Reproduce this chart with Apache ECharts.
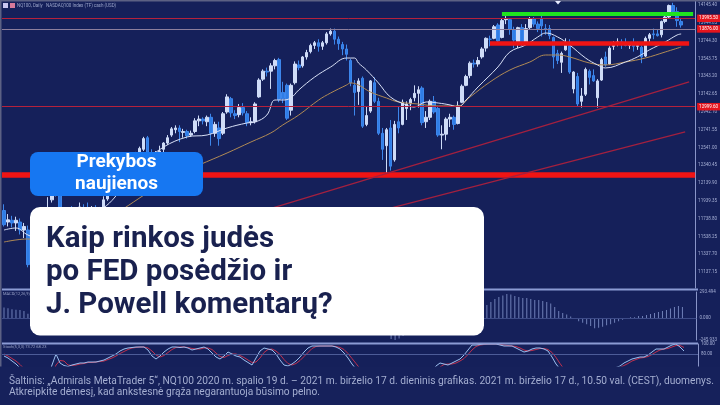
<!DOCTYPE html>
<html><head><meta charset="utf-8">
<script src="https://cdn.jsdelivr.net/npm/echarts@6.0.0/dist/echarts.min.js"></script>
<style>html,body{margin:0;padding:0;background:#15205a;}#c{width:720px;height:405px;}</style>
</head><body><div id="c"></div>
<script>
// ---- data ----
const tradingDays = [
 ['2020-10',[20,21,22,23,26,27,28,29,30]],
 ['2020-11',[2,3,4,5,6,9,10,11,12,13,16,17,18,19,20,23,24,25,26,27,30]],
 ['2020-12',[1,2,3,4,7,8,9,10,11,14,15,16,17,18,21,22,23,24,28,29,30,31]],
 ['2021-01',[4,5,6,7,8,11,12,13,14,15,18,19,20,21,22,25,26,27,28,29]],
 ['2021-02',[1,2,3,4,5,8,9,10,11,12,15,16,17,18,19,22,23,24,25,26]],
 ['2021-03',[1,2,3,4,5,8,9,10,11,12,15,16,17,18,19,22,23,24,25,26,29,30,31]],
 ['2021-04',[1,2,5,6,7,8,9,12,13,14,15,16,19,20,21,22,23,26,27,28,29,30]],
 ['2021-05',[3,4,5,6,7,10,11,12,13,14,17,18,19,20,21,24,25,26,27,28,31]],
 ['2021-06',[1,2,3,4,7,8,9,10,11,14,15,16,17]]
];
const emptySlots = [' ', '  ', '   '];
// [open, close, low, high]
const ohlc = [
[11830,11670,11650,11900],[11700,11725,11650,11790],[11720,11690,11640,11770],[11690,11720,11600,11760],
[11700,11610,11560,11740],[11610,11650,11520,11690],[11610,11220,11190,11660],[11230,11410,11200,11500],
[11400,11060,10980,11450],[11100,11150,11020,11300],[11180,11400,11150,11450],[11420,11840,11380,11980],
[11950,12120,11920,12160],[12100,12140,11990,12200],[12250,11720,11700,12360],[11700,11540,11420,11700],
[11600,11800,11580,11830],[11800,11730,11660,11880],[11750,11830,11680,11860],[11830,11870,11760,11920],
[11860,11850,11780,11900],[11860,11760,11750,11920],[11740,11860,11700,11880],[11860,11790,11780,11890],
[11800,11810,11720,11870],[11830,11950,11800,11990],[11960,12030,11940,12060],[12030,12060,12010,12080],
[12060,12110,12040,12140],[12130,12170,12030,12200],[12200,12330,12180,12380],[12320,12350,12230,12370],
[12360,12350,12330,12420],[12380,12470,12350,12490],[12470,12530,12440,12550],[12520,12640,12500,12660],
[12650,12470,12420,12670],[12470,12460,12380,12520],[12450,12480,12380,12500],[12490,12500,12460,12560],
[12520,12590,12480,12600],[12590,12650,12570,12680],[12680,12750,12660,12770],[12740,12760,12700,12790],
[12760,12720,12600,12790],[12710,12720,12650,12750],[12720,12670,12640,12740],[12680,12700,12660,12730],
[12720,12840,12700,12870],[12840,12860,12780,12900],[12860,12840,12800,12880],[12830,12880,12780,12900],
[12880,12700,12560,12920],[12700,12800,12660,12830],[12760,12640,12560,12830],[12700,12920,12680,12940],
[12940,13110,12920,13140],[13090,12930,12880,13110],[12920,12900,12860,12960],[12910,12990,12880,13030],
[12990,12930,12900,13040],[12920,12820,12780,12950],[12820,12830,12790,12880],[12830,13030,12810,13050],
[13110,13300,13100,13320],[13310,13400,13290,13420],[13400,13390,13340,13440],[13400,13460,13200,13490],
[13460,13520,13420,13540],[13530,13080,13050,13550],[13160,13090,13040,13280],[13240,12870,12850,13260],
[12960,13240,12900,13260],[13270,13480,13250,13510],[13470,13440,13410,13520],[13460,13560,13440,13570],
[13560,13610,13530,13640],[13620,13690,13600,13710],[13690,13720,13650,13740],[13720,13680,13620,13760],
[13680,13720,13640,13740],[13720,13820,13700,13840],[13820,13850,13800,13880],[13850,13760,13700,13880],
[13760,13710,13640,13790],[13700,13650,13580,13730],[13650,13590,13520,13700],[13520,13270,13230,13540],
[13240,13160,12900,13300],[13170,13290,13020,13320],[13320,12780,12760,13340],[12800,12900,12780,13000],
[12950,13290,12930,13300],[13270,13060,13040,13330],[13060,12700,12680,13100],[12700,12520,12400,12760],
[12560,12740,12250,12760],[12760,12330,12280,12850],[12400,12800,12380,12840],[12830,12760,12700,13000],
[12800,13050,12790,13080],[12980,13030,12850,13060],[13030,13080,12960,13100],[13100,13150,13060,13240],
[13150,13190,12990,13230],[13210,12820,12790,13230],[12830,12880,12760,12950],[12880,13060,12850,13080],
[13060,12940,12920,13120],[12980,12680,12660,13000],[12680,12690,12520,12790],[12690,12860,12620,12880],
[12860,12880,12770,12920],[12880,12800,12740,12900],[12810,13010,12800,13060],[13050,13230,13040,13250],
[13240,13340,13230,13360],[13350,13490,13320,13510],[13490,13480,13440,13530],[13480,13520,13450,13560],
[13560,13650,13540,13670],[13660,13770,13620,13780],[13760,13760,13680,13800],[13770,13900,13760,13920],
[13920,13740,13710,13940],[13780,13970,13770,13990],[13980,13990,13930,14020],[13980,13870,13810,13990],
[13870,13750,13660,13900],[13730,13890,13660,13900],[13890,13720,13680,13930],[13730,13880,13710,13930],
[13890,13990,13870,14010],[13990,13930,13900,14010],[13930,13880,13840,13960],[13990,13910,13790,14040],
[13880,13870,13810,13930],[13880,13800,13760,13920],[13780,13560,13430,13790],[13600,13520,13480,13640],
[13500,13600,13380,13620],[13640,13720,13630,13770],[13720,13390,13370,13760],[13200,13390,13150,13400],
[13340,13030,13000,13380],[13060,13120,12990,13210],[13140,13420,13120,13440],[13400,13330,13250,13420],
[13350,13290,13280,13420],[13100,13290,12990,13310],[13300,13530,13290,13550],[13560,13470,13450,13620],
[13480,13660,13470,13680],[13680,13690,13640,13740],[13700,13730,13680,13770],[13730,13700,13650,13760],
[13720,13690,13680,13770],[13690,13700,13650,13720],[13710,13680,13620,13770],[13680,13690,13640,13730],
[13670,13560,13490,13690],[13570,13770,13560,13790],[13770,13810,13730,13830],[13820,13810,13760,13880],
[13820,13800,13790,13870],[13810,13960,13780,13970],[13960,14010,13940,14030],[14010,14140,13990,14150],
[14140,14070,14050,14170],[14070,13970,13900,14120],[13960,13920,13890,14000]
];
// moving averages: [candle index, value]
const maFast = [[0,11610],[3,11633],[6,11554],[10,11500],[15,11750],[20,11780],[25,11860],[30,12100],[35,12380],
 [46,12659],[51,12681],[56,12760],[61,12816],[63,12827],[66,12906],[68,13075],[70,13075],[72,13098],[74,13188],
 [78,13334],[82,13447],[86,13548],[88,13548],[89,13492],[91,13413],[94,13267],[97,13109],[101,13019],[103,12996],
 [106,13053],[109,13041],[112,13019],[114,12996],[116,13075],[119,13222],[124,13447],[127,13616],[131,13695],
 [134,13785],[136,13830],[139,13785],[142,13695],[146,13548],[149,13470],[151,13436],[156,13503],[159,13560],
 [162,13639],[166,13729],[169,13808],[170,13819]];
const maSlow = [[0,11475],[3,11498],[6,11509],[10,11480],[15,11520],[20,11600],[25,11700],[30,11850],[35,12000],
 [40,12150],[45,12260],[49,12343],[56,12478],[62,12602],[67,12704],[70,12794],[74,12906],[79,13075],[82,13154],
 [86,13244],[87,13267],[89,13244],[92,13165],[96,13098],[99,13053],[104,13030],[109,13008],[114,13008],[117,13109],
 [122,13278],[127,13413],[132,13503],[136,13582],[139,13582],[142,13560],[147,13492],[151,13470],[156,13503],
 [161,13548],[166,13616],[170,13672]];
const macd = [120,110,100,95,90,80,50,35,10,
 -20,-30,-10,20,50,40,30,35,40,45,50,55,
 55,58,60,62,70,80,90,100,110,125,140,150,160,170,175,
 170,165,160,165,175,180,185,185,180,178,175,178,182,185,185,
 183,170,165,160,170,185,180,175,170,160,150,145,160,185,205,
 215,225,230,200,180,155,160,180,200,215,230,240,250,255,255,
 285,293,288,275,258,238,205,170,140,90,50,30,0,-60,-120,-180,-235,-246,-230,-200,-170,-140,-110,-85,-90,-95,-85,-80,-90,-100,-90,-80,-70,-45,-10,25,60,85,100,
 113,147,181,215,237,254,271,266,249,237,226,226,215,203,203,192,181,164,124,79,57,40,17,-5,-34,-51,-68,-90,-113,-107,
 -96,-79,-68,-51,-34,-17,-3,11,11,23,23,34,45,57,68,79,90,107,124,136,124];
const stochMain = [76,72,66,60,52,40,25,20,15,10,20,35,58,80,62,57,55,58,60,62,62,64,64,64,66,68,72,76,80,86,
 90,92,93,94,94,94,88,76,70,76,84,90,94,94,93,94,92,88,90,92,94,90,82,74,70,76,84,80,76,74,
 68,63,58,72,86,92,90,88,80,68,58,56,60,66,74,84,92,96,96,96,96,96,96,94,90,82,72,60,50,42,
 30,22,35,30,18,10,12,15,30,40,48,50,52,52,50,35,30,45,56,62,60,58,62,66,70,78,88,98,98,99,
 100,100,100,100,98,96,96,96,92,88,84,86,90,92,92,90,86,74,60,50,40,35,25,15,8,12,30,35,30,28,
 40,45,50,53,56,62,66,70,72,74,74,78,84,90,90,90,94,98,100,94,86];
const stochSignal = [80,76,71,66,59,51,39,28,20,15,15,22,38,58,67,66,58,57,58,60,61,63,63,64,65,66,69,72,76,81,
 85,89,92,93,94,94,92,86,78,74,77,83,89,93,94,94,93,91,90,90,92,92,89,82,75,73,77,80,80,77,
 73,68,63,64,72,83,89,90,86,79,69,61,58,61,67,75,83,91,95,96,96,96,96,95,93,89,81,71,61,51,
 41,31,29,29,28,19,13,12,19,28,39,46,50,51,51,46,38,37,44,54,59,60,60,62,66,71,79,88,95,98,
 99,100,100,100,99,98,97,96,95,92,88,86,87,89,91,91,89,83,73,61,50,42,33,25,16,12,17,26,32,31,
 33,38,45,49,53,57,61,66,69,72,73,75,79,84,88,90,91,94,97,97,93];
const priceTicks = [14145.40,13944.85,13744.30,13543.75,13343.20,13142.65,12942.10,12741.55,12541.00,12340.45,12139.90,11939.35,11738.80,11538.25,11337.70,11137.15];
const priceRange = [10956.88, 14201.73];
const macdTicks = [293.494, 0, -245.933];
const stochTicks = [100, 80];
// horizontal levels and trend lines
const levelRedThinTop = 13995.5;
const levelGreyTop = 13876;
const levelGreen = 14047;
const levelRedThick = 13719;
const levelRedThinMid = 12999.6;
const levelRedMain = 12232;
const greenSpan = [125, 173];
const redThickSpan = [122, 172];
const trend1 = [[37, 11445], [172, 13278]];
const trend2 = [[74, 11588], [171, 12715]];

const titleLines = ['Kaip rinkos judės', 'po FED posėdžio ir', 'J. Powell komentarų?'];
const badgeLines = ['Prekybos', 'naujienos'];
const footer1 = 'Šaltinis: „Admirals MetaTrader 5“, NQ100 2020 m. spalio 19 d. – 2021 m. birželio 17 d. dieninis grafikas. 2021 m. birželio 17 d., 10.50 val. (CEST), duomenys.';
const footer2 = 'Atkreipkite dėmesį, kad ankstesnė grąža negarantuoja būsimo pelno.';
const chartTitle = 'NQ100, Daily   NASDAQ100 Index (TF) cash (USD)';

// ---- build ----
const cats = [];
tradingDays.forEach(([m, ds]) => ds.forEach(d => cats.push(m + '-' + String(d).padStart(2, '0'))));
emptySlots.forEach(s => cats.push(s));

const chart = echarts.init(document.getElementById('c'), null, {renderer: 'canvas'});
const redLabel = {show: true, position: 'end', distance: 2, formatter: p => Number(p.value).toFixed(2),
  color: '#ffffff', fontSize: 4.5, fontFamily: 'Roboto', backgroundColor: '#e5141d', padding: [1.5, 2, 1, 2]};
const axisLbl = {fontSize: 4.5, color: '#a7b0d6', fontFamily: 'Roboto', margin: 3};

const footFont = '11.5px Roboto';
const mctx = document.createElement('canvas').getContext('2d');
mctx.font = footFont;
const fScale = 705 / mctx.measureText(footer1).width;

function txt(text, x, y, font, fill, extra, align) {
  const a = align || 'left';
  return Object.assign({type: 'text', x: x, y: y, z: 100, silent: true,
    style: {text: text, font: font, fill: fill, textAlign: a, textVerticalAlign: 'middle', align: a, verticalAlign: 'middle'}}, extra || {});
}

const option = {
  backgroundColor: '#15205a',
  animation: false,
  grid: [
    {left: 2, top: 0, width: 696, height: 288},
    {left: 2, top: 292, width: 696, height: 48},
    {left: 2, top: 344, width: 696, height: 50}
  ],
  xAxis: [0, 1, 2].map(g => ({type: 'category', gridIndex: g, data: cats, boundaryGap: true, show: false})),
  yAxis: [
    {gridIndex: 0, position: 'right', min: priceRange[0], max: priceRange[1], splitLine: {show: false},
      axisLine: {show: true, lineStyle: {color: '#8995c8', width: 1}}, axisTick: {show: false},
      axisLabel: Object.assign({customValues: priceTicks, formatter: v => v.toFixed(2)}, axisLbl)},
    {gridIndex: 1, position: 'right', min: macdTicks[2], max: macdTicks[0], splitLine: {show: false},
      axisLine: {show: true, lineStyle: {color: '#8995c8', width: 1}}, axisTick: {show: false},
      axisLabel: Object.assign({customValues: macdTicks, formatter: v => v.toFixed(3)}, axisLbl)},
    {gridIndex: 2, position: 'right', min: 0, max: 100, splitLine: {show: false},
      axisLine: {show: true, lineStyle: {color: '#8995c8', width: 1}}, axisTick: {show: false},
      axisLabel: Object.assign({customValues: stochTicks, formatter: v => v.toFixed(2)}, axisLbl)}
  ],
  series: [
    {type: 'candlestick', xAxisIndex: 0, yAxisIndex: 0, data: ohlc, barWidth: 3,
      itemStyle: {color: '#cfdcf8', color0: '#2f7de6', borderColor: '#cfdcf8', borderColor0: '#3d86ec', borderWidth: 1},
      markLine: {symbol: 'none', silent: true, animation: false, data: [
        {yAxis: levelRedThinTop, lineStyle: {color: '#b5213c', width: 1, type: 'solid'}, label: redLabel},
        {yAxis: levelGreyTop, lineStyle: {color: '#8d7e9c', width: 1, type: 'solid'}, label: redLabel},
        {yAxis: levelRedThinMid, lineStyle: {color: '#b5213c', width: 1, type: 'solid'}, label: redLabel},
        {yAxis: levelRedMain, lineStyle: {color: '#f01414', width: 5.5, type: 'solid'}, label: {show: false}},
        [{coord: [greenSpan[0], levelGreen], lineStyle: {color: '#1fe41f', width: 4, type: 'solid'}, label: {show: false}}, {coord: [greenSpan[1], levelGreen]}],
        [{coord: [redThickSpan[0], levelRedThick], lineStyle: {color: '#f01414', width: 4.5, type: 'solid'}, label: {show: false}}, {coord: [redThickSpan[1], levelRedThick]}],
        [{coord: trend1[0], lineStyle: {color: '#a3203f', width: 1.3, type: 'solid'}, label: {show: false}}, {coord: trend1[1]}],
        [{coord: trend2[0], lineStyle: {color: '#a3203f', width: 1.3, type: 'solid'}, label: {show: false}}, {coord: trend2[1]}]
      ]}},
    {type: 'line', xAxisIndex: 0, yAxisIndex: 0, data: maSlow, smooth: 0.4, symbol: 'none', silent: true,
      lineStyle: {color: '#b08a55', width: 1}},
    {type: 'line', xAxisIndex: 0, yAxisIndex: 0, data: maFast, smooth: 0.4, symbol: 'none', silent: true,
      lineStyle: {color: '#d9e1f7', width: 1}},
    {type: 'bar', xAxisIndex: 1, yAxisIndex: 1, data: macd, barWidth: 1, silent: true,
      itemStyle: {color: '#7080b8'},
      markLine: {symbol: 'none', silent: true, data: [{yAxis: 0, lineStyle: {color: '#3d4b88', width: 1, type: 'solid'}, label: {show: false}}]}},
    {type: 'line', xAxisIndex: 2, yAxisIndex: 2, data: stochSignal, symbol: 'none', silent: true,
      lineStyle: {color: '#c0304f', width: 1},
      markLine: {symbol: 'none', silent: true, data: [{yAxis: 80, lineStyle: {color: '#4d5c98', width: 1, type: 'solid'}, label: {show: false}}]}},
    {type: 'line', xAxisIndex: 2, yAxisIndex: 2, data: stochMain, symbol: 'none', silent: true,
      lineStyle: {color: '#9dc0f0', width: 1}}
  ],
  graphic: [
    {type: 'rect', z: 90, silent: true, shape: {x: 0, y: 0, width: 720, height: 1.5}, style: {fill: '#5c6184'}},
    {type: 'rect', z: 90, silent: true, shape: {x: 0, y: 0, width: 1.5, height: 367}, style: {fill: '#5c6184'}},
    {type: 'rect', z: 90, silent: true, shape: {x: 2, y: 288.5, width: 696, height: 2}, style: {fill: '#8c9bd4'}},
    {type: 'rect', z: 90, silent: true, shape: {x: 2, y: 342.5, width: 696, height: 2}, style: {fill: '#8c9bd4'}},
    {type: 'polygon', z: 90, silent: true, shape: {points: [[555, 1], [561, 1], [558, 4.5]]}, style: {fill: '#e8ecff'}},
    {type: 'rect', z: 90, silent: true, shape: {x: 3, y: 3, width: 5, height: 5}, style: {fill: '#c9c6f0'}},
    {type: 'rect', z: 90, silent: true, shape: {x: 10, y: 3, width: 5, height: 5}, style: {fill: '#d77a9a'}},
    txt(chartTitle, 17, 5.5, '4.5px Roboto', '#9aa3c8'),
    txt('MACD(12,26,9) 38.154', 3, 294, '4px Roboto', '#9aa3c8'),
    txt('Stoch(5,3,3) 73.72 68.23', 3, 346.5, '4px Roboto', '#9aa3c8'),
    {type: 'rect', z: 100, silent: true, shape: {x: 0, y: 366.5, width: 720, height: 39}, style: {fill: '#16215b'}},
    txt(footer1, 8, 381, footFont, '#a4aed1', {scaleX: fScale, originX: 8, originY: 381}),
    txt(footer2, 8, 392, footFont, '#a4aed1', {scaleX: fScale, originX: 8, originY: 392}),
    {type: 'rect', z: 100, silent: true, shape: {x: 30, y: 152, width: 173, height: 44, r: 8}, style: {fill: '#1677f2'}},
    txt(badgeLines[0], 116.5, 162.5, 'bold 19px Roboto', '#ffffff', null, 'center'),
    txt(badgeLines[1], 116.5, 184.5, 'bold 19px Roboto', '#ffffff', null, 'center'),
    {type: 'rect', z: 100, silent: true, shape: {x: 30, y: 207, width: 454, height: 128.5, r: 10}, style: {fill: '#ffffff'}},
    txt(titleLines[0], 46, 239.5, 'bold 29.5px Roboto', '#19214f'),
    txt(titleLines[1], 46, 272.5, 'bold 29.5px Roboto', '#19214f'),
    txt(titleLines[2], 46, 305.5, 'bold 29.5px Roboto', '#19214f')
  ]
};
chart.setOption(option);
</script>
</body></html>
